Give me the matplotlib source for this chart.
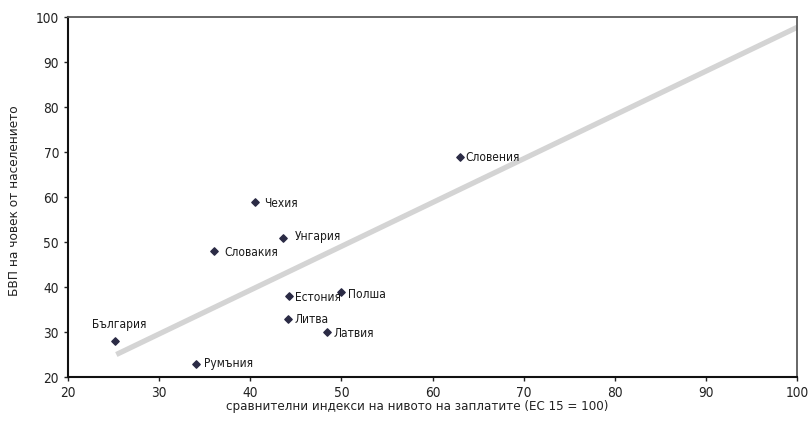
import matplotlib
matplotlib.use("Agg")
import matplotlib.pyplot as plt

plt.rcParams['font.family'] = ['DejaVu Sans']
plt.rcParams['font.stretch'] = 'condensed'

# Wage index vs GDP per capita, EU15 = 100
countries = ["България", "Румъния", "Словакия", "Чехия", "Унгария",
             "Естония", "Полша", "Литва", "Латвия", "Словения"]
wage_index = [25.2, 34.0, 36.0, 40.5, 43.6, 44.3, 50.0, 44.1, 48.4, 63.0]
gdp_per_capita = [28, 23, 48, 59, 51, 38, 39, 33, 30, 69]

# trend line end points
trend_x = [25.3, 100]
trend_y = [25.0, 97.7]

# label offsets in pixels (dx, dy)
label_offsets = {
    "България": (4, 17, 'center'),
    "Румъния": (8, 0, 'left'),
    "Словакия": (11, -1, 'left'),
    "Чехия": (9, -2, 'left'),
    "Унгария": (12, 1, 'left'),
    "Естония": (6, -1, 'left'),
    "Полша": (7, -3, 'left'),
    "Литва": (7, -1, 'left'),
    "Латвия": (7, -1, 'left'),
    "Словения": (6, -1, 'left'),
}

fig = plt.figure(figsize=(8.08, 4.26), dpi=100)
ax = fig.add_axes([0.0842, 0.115, 0.9022, 0.845])

ax.plot(trend_x, trend_y, color='#d4d4d4', linewidth=3.8, solid_capstyle='butt', zorder=1)
ax.scatter(wage_index, gdp_per_capita, marker='D', s=14, color='#2b2b45', zorder=3)

for name, x, y in zip(countries, wage_index, gdp_per_capita):
    dx, dy, ha = label_offsets[name]
    ax.annotate(name, (x, y), xytext=(dx * 0.72, dy * 0.72), textcoords='offset points',
                ha=ha, va='center', fontsize=8.6, color='#1a1a1a')

ax.set_xlim(20, 100)
ax.set_ylim(20, 100)
ax.set_xticks(range(20, 101, 10))
ax.set_yticks(range(20, 101, 10))
ax.tick_params(direction='out', length=3, width=1, labelsize=9.8, colors='#222222')

for side in ['left', 'bottom']:
    ax.spines[side].set_color('#111111')
    ax.spines[side].set_linewidth(1.5)
for side in ['top', 'right']:
    ax.spines[side].set_color('#5a5a5a')
    ax.spines[side].set_linewidth(1.3)

ax.set_xlabel("сравнителни индекси на нивото на заплатите (ЕС 15 = 100)", fontsize=9.5,
              color='#222222')
ax.set_ylabel("БВП на човек от населението", fontsize=9.7, color='#222222')
ax.xaxis.set_label_coords(0.479, -0.064)
ax.yaxis.set_label_coords(-0.065, 0.489)

fig.savefig("out.png", dpi=100)
